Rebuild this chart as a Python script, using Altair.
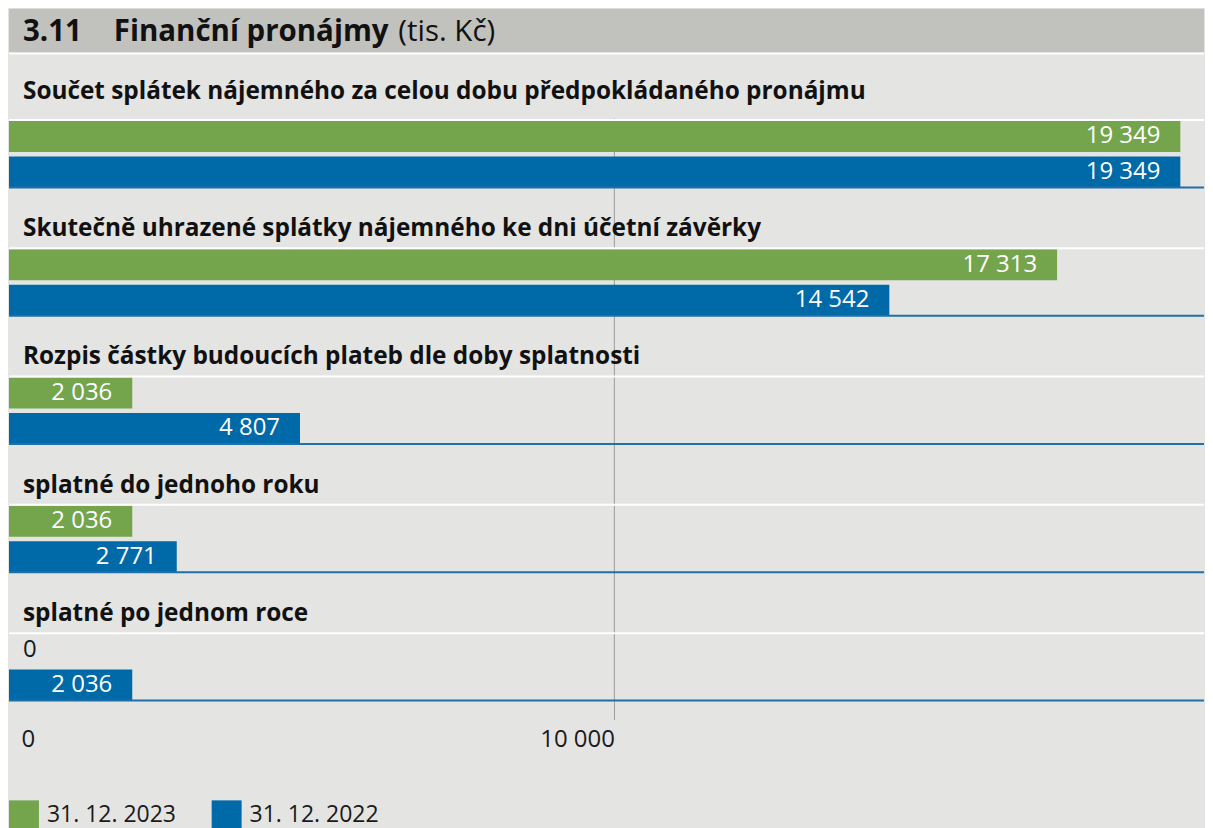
import altair as alt
import pandas as pd

# ---- data ----
groups = [
    "Součet splátek nájemného za celou dobu předpokládaného pronájmu",
    "Skutečně uhrazené splátky nájemného ke dni účetní závěrky",
    "Rozpis částky budoucích plateb dle doby splatnosti",
    "splatné do jednoho roku",
    "splatné po jednom roce",
]
series = ["31. 12. 2023", "31. 12. 2022"]
v2023 = [19349, 17313, 2036, 2036, 0]
v2022 = [19349, 14542, 4807, 2771, 2036]
axis_ticks = [0, 10000]
title_num = "3.11"
title_main = "Finanční pronájmy"
title_unit = "(tis. Kč)"

GREEN = "#74a54c"
BLUE = "#0069a7"
LINEBLUE = "#1f6fab"
BG = "#e4e4e2"
TITLEBG = "#c1c1bd"
GRID = "#9c9c9c"
FONT = "Open Sans"
W = 1197
H = 583

rows = []
for g, a, b in zip(groups, v2023, v2022):
    for s, v in zip(series, (a, b)):
        rows.append({"group": g, "series": s, "value": v,
                     "label": f"{v:,}".replace(",", " ")})
df = pd.DataFrame(rows)
df["first"] = df["group"] == groups[0]
ticks_df = pd.DataFrame({"tick": axis_ticks})

yscale = alt.Scale(domain=groups, range=[-59.5, H], paddingInner=0, paddingOuter=0)
yoff_scale = alt.Scale(domain=series, paddingInner=0.127, paddingOuter=0.8732, align=1)
xscale = alt.Scale(domain=[0, 19740], nice=False, zero=True)

base = alt.Chart(df)

Y = alt.Y("group:N", scale=yscale, axis=None, sort=groups)
YO = alt.YOffset("series:N", scale=yoff_scale, sort=series)

xaxis = alt.Axis(
    values=axis_ticks, title=None, domain=False, grid=False,
    tickSize=19, tickColor=GRID,
    tickOpacity={"condition": {"test": "datum.value === 0", "value": 0}, "value": 1},
    labelAlign={"condition": {"test": "datum.value === 0", "value": "left"}, "value": "right"},
    labelOffset={"condition": {"test": "datum.value === 0", "value": 12}, "value": 0},
    labelFlush=False, labelFont=FONT, labelFontSize=24, labelColor="#1a1a1a",
    labelBaseline="middle", labelPadding=20,
    labelExpr="replace(format(datum.value, ','), ',', ' ')",
)

grid = alt.Chart(ticks_df).transform_filter(alt.datum.tick > 0).mark_rule(
    color=GRID, strokeWidth=1).encode(
    x=alt.X("tick:Q", scale=xscale), y=alt.value(0), y2=alt.value(H))

bars = base.mark_bar().encode(
    x=alt.X("value:Q", scale=xscale, axis=xaxis),
    y=Y, yOffset=YO,
    color=alt.Color("series:N", sort=series,
                    scale=alt.Scale(domain=series, range=[GREEN, BLUE]),
                    legend=alt.Legend(
                        title=None, orient="none", legendX=0, legendY=683,
                        direction="horizontal", symbolType="square", symbolSize=900,
                        symbolStrokeWidth=0, labelFont=FONT, labelFontSize=23,
                        labelColor="#1a1a1a", labelOffset=8, columnPadding=35,
                        padding=0, symbolOpacity=1)),
)

white_rules = base.transform_filter(alt.datum.series == series[0]).mark_rule(
    color="white", strokeWidth=2).encode(
    y=alt.Y("group:N", scale=yscale, axis=None, sort=groups, bandPosition=0.4747),
    x=alt.value(0), x2=alt.value(W))

blue_rules = base.transform_filter(alt.datum.series == series[1]).mark_rule(
    color=LINEBLUE, strokeWidth=2).encode(
    y=alt.Y("group:N", scale=yscale, axis=None, sort=groups, bandPosition=1),
    x=alt.value(0), x2=alt.value(W))

val_text = base.transform_filter(alt.datum.value > 0).mark_text(
    align="right", baseline="middle", dx=-20, font=FONT, fontSize=24, color="white").encode(
    x=alt.X("value:Q", scale=xscale), y=Y, yOffset=YO, text="label:N")

zero_text = base.transform_filter(alt.datum.value == 0).mark_text(
    align="left", baseline="middle", dx=14, font=FONT, fontSize=24, color="#1a1a1a").encode(
    x=alt.X("value:Q", scale=xscale), y=Y, yOffset=YO, text="label:N")

ylab = alt.Y("group:N", scale=yscale, axis=None, sort=groups, bandPosition=0)
glabels = base.transform_filter((alt.datum.series == series[0]) & (~alt.datum.first)).mark_text(
    align="left", baseline="alphabetic", dy=48.7, font=FONT, fontSize=24.4,
    fontWeight="bold", color="#111").encode(y=ylab, x=alt.value(14), text="group:N")
glabel1 = base.transform_filter((alt.datum.series == series[0]) & (alt.datum.first)).mark_text(
    align="left", baseline="alphabetic", dy=39.5, font=FONT, fontSize=24.4,
    fontWeight="bold", color="#111").encode(y=ylab, x=alt.value(14), text="group:N")

tdf = pd.DataFrame({"a": [title_num], "b": [title_main], "c": [title_unit]})
tbase = alt.Chart(tdf)
title_rect = tbase.mark_rect(color=TITLEBG).encode(
    x=alt.value(0), x2=alt.value(W), y=alt.value(-110), y2=alt.value(-66))
title_line = tbase.mark_rule(color="white", strokeWidth=2).encode(
    x=alt.value(0), x2=alt.value(W), y=alt.value(-65))
t1 = tbase.mark_text(align="left", baseline="alphabetic", font=FONT, fontSize=29.5,
                     fontWeight="bold", color="#111").encode(
    x=alt.value(14), y=alt.value(-78), text="a:N")
t2 = tbase.mark_text(align="left", baseline="alphabetic", font=FONT, fontSize=29.5,
                     fontWeight="bold", color="#111").encode(
    x=alt.value(105), y=alt.value(-78), text="b:N")
t3 = tbase.mark_text(align="left", baseline="alphabetic", font=FONT, fontSize=29.5,
                     fontWeight="normal", color="#111").encode(
    x=alt.value(390), y=alt.value(-78), text="c:N")

chart = alt.layer(
    title_rect, title_line, t1, t2, t3, grid,
    bars, blue_rules, white_rules, val_text, zero_text, glabels, glabel1,
).properties(width=W, height=H, padding=0, background=BG).configure_view(stroke=None)

chart.save("out.html", embed_options={"renderer": "svg", "actions": False})
